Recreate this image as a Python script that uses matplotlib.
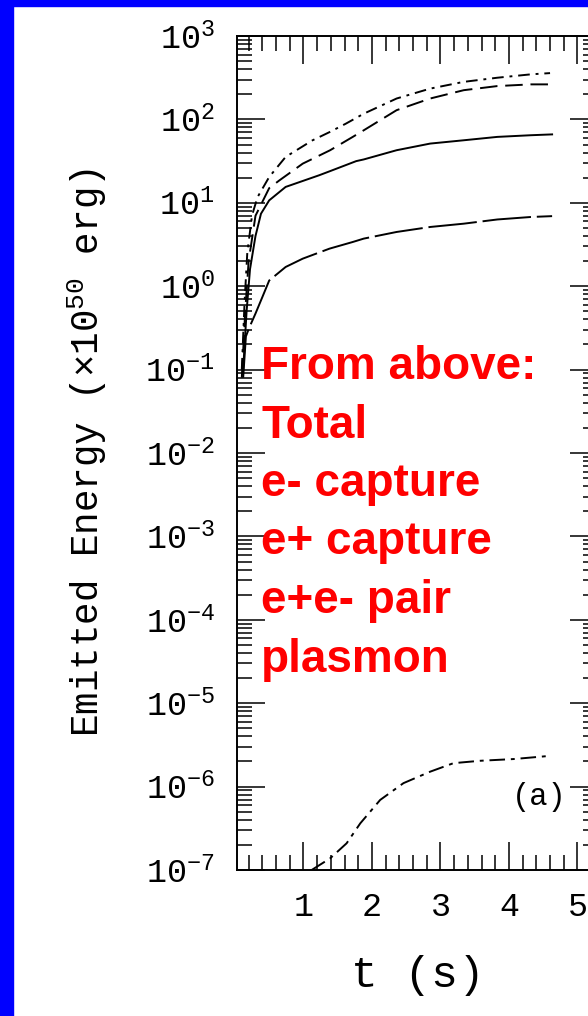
import matplotlib.pyplot as plt
from matplotlib.patches import Rectangle
from matplotlib.ticker import LogLocator, MultipleLocator, NullFormatter

plt.rcParams['mathtext.fontset'] = 'custom'
plt.rcParams['mathtext.rm'] = 'Liberation Mono'
plt.rcParams['mathtext.it'] = 'Liberation Mono'
plt.rcParams['font.family'] = 'Liberation Mono'

# emitted energy (10^50 erg) vs time (s)
t_total = [0.10, 0.14, 0.18, 0.25, 0.33, 0.50, 0.74, 1.13, 1.39, 1.62, 1.88, 2.36, 2.85, 3.34, 3.83, 4.32, 4.60]
e_total = [0.1, 0.63, 2.5, 7.1, 11.7, 20.4, 35.5, 56, 71, 89, 117, 178, 234, 282, 316, 347, 359]

t_ecap = [0.10, 0.15, 0.20, 0.30, 0.50, 0.65, 0.99, 1.39, 1.72, 1.88, 2.36, 2.85, 3.34, 3.83, 4.32, 4.63]
e_ecap = [0.08, 0.5, 2.0, 7.0, 15.0, 18.6, 29.5, 42.7, 61.7, 74, 129, 178, 224, 251, 263, 263]

t_pcap = [0.12, 0.17, 0.22, 0.30, 0.38, 0.50, 0.74, 1.23, 1.39, 1.77, 1.88, 2.36, 2.85, 3.34, 3.83, 4.32, 4.63]
e_pcap = [0.1, 0.5, 1.6, 4.0, 7.4, 10.7, 15.5, 21.4, 24.0, 31.6, 33.1, 42.7, 51.3, 56.2, 61.7, 64.6, 66.1]

t_pair = [0.12, 0.16, 0.21, 0.30, 0.40, 0.50, 0.74, 0.99, 1.38, 1.72, 1.88, 2.36, 2.85, 3.34, 3.83, 4.32, 4.63]
e_pair = [0.08, 0.25, 0.32, 0.47, 0.74, 1.17, 1.70, 2.14, 2.82, 3.39, 3.72, 4.47, 5.13, 5.62, 6.31, 6.76, 6.92]

t_plas = [1.12, 1.39, 1.63, 1.83, 2.12, 2.46, 2.85, 3.19, 3.58, 4.07, 4.61]
e_plas = [1.0e-7, 1.38e-7, 2.09e-7, 3.63e-7, 6.92e-7, 1.10e-6, 1.51e-6, 1.91e-6, 2.04e-6, 2.14e-6, 2.34e-6]

notes = ["From above:", "Total", "e- capture", "e+ capture", "e+e- pair", "plasmon"]

W, H = 588, 1016
fig = plt.figure(figsize=(W / 100, H / 100), dpi=100)

# blue frame on left and top
fig.patches.append(Rectangle((0, 0), 12.7 / W, 1, transform=fig.transFigure,
                             color='#0000ff', zorder=0))
fig.patches.append(Rectangle((0, 1 - 5.7 / H), 1, 5.7 / H, transform=fig.transFigure,
                             color='#0000ff', zorder=0))

ax = fig.add_axes([237 / W, 1 - 870 / H, (598 - 237) / W, (870 - 36) / H])

lw = 1.4
ax.plot(t_total, e_total, color='k', lw=lw, ls=(0, (6, 3, 1.5, 3)))
ax.plot(t_ecap, e_ecap, color='k', lw=lw, ls=(0, (9, 4)))
ax.plot(t_pcap, e_pcap, color='k', lw=lw, ls='-')
ax.plot(t_pair, e_pair, color='k', lw=lw, ls=(0, (25, 3)))
ax.plot(t_plas, e_plas, color='k', lw=lw, ls=(0, (8, 3, 2, 3)))

ax.set_yscale('log')
ax.set_xlim(0.03, 5.3)
ax.set_ylim(1e-7, 1e3)

ax.xaxis.set_major_locator(MultipleLocator(1))
ax.xaxis.set_minor_locator(MultipleLocator(0.2))
ax.yaxis.set_major_locator(LogLocator(base=10, numticks=20))
ax.yaxis.set_minor_locator(LogLocator(base=10, subs=range(2, 10), numticks=20))
ax.yaxis.set_minor_formatter(NullFormatter())

ax.tick_params(which='both', direction='in', top=True, right=True, width=1.1)
ax.tick_params(which='major', length=20)
ax.tick_params(which='minor', length=10.5)
ax.tick_params(axis='y', which='major', pad=16, labelsize=24)
ax.tick_params(axis='x', which='major', pad=16, labelsize=24)
for s in ax.spines.values():
    s.set_linewidth(1.4)

ax.set_xlabel('t (s)', fontsize=32)
ax.xaxis.set_label_coords(0.5, -0.126)
ax.xaxis.label.set_va('center')

ax.set_ylabel(r'Emitted Energy ($\times$10$^{50}$ erg)', fontsize=27)
ax.yaxis.set_label_coords(-0.4155, 0.5)
ax.yaxis.label.set_va('center')

ax.text(0.8366, 0.0875, '(a)', transform=ax.transAxes, fontsize=22,
        ha='center', va='center')

# red legend text, one line per baseline
y0, dy = 379, 58.5
for i, line in enumerate(notes):
    fig.text(261 / W, 1 - (y0 + i * dy) / H, line, color='#ff0000',
             fontsize=33, fontweight='bold', family='Liberation Sans',
             ha='left', va='baseline')

fig.savefig('out.png', dpi=100)
